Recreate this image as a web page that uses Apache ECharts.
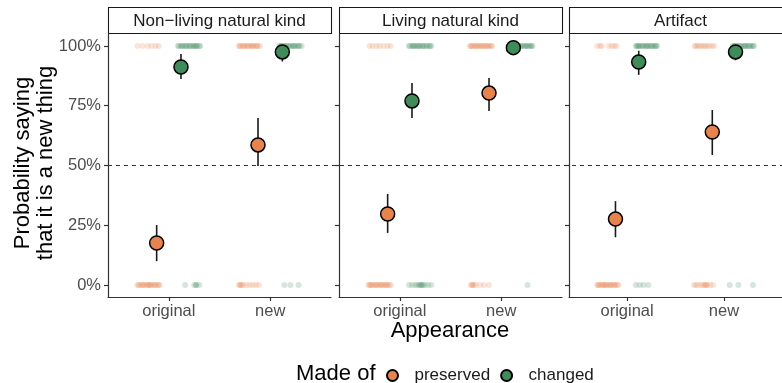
<!DOCTYPE html>
<html>
<head>
<meta charset="utf-8">
<script src="https://cdn.jsdelivr.net/npm/echarts@6/dist/echarts.min.js"></script>
<style>html,body{margin:0;padding:0;background:#fff}#c{width:782px;height:383px}</style>
</head>
<body>
<div id="c"></div>
<script>
// ---------- data ----------
const facets = ['Non\u2212living natural kind', 'Living natural kind', 'Artifact'];
const appearance = ['original', 'new'];
const materials = ['preserved', 'changed'];
const yTicks = [0, 0.25, 0.5, 0.75, 1];
const refLine = 0.5;

// [facet][appearance]
const meanPreserved = [[0.176, 0.586], [0.297, 0.803], [0.276, 0.640]];
const lowPreserved  = [[0.100, 0.498], [0.218, 0.728], [0.200, 0.544]];
const highPreserved = [[0.251, 0.699], [0.381, 0.866], [0.351, 0.732]];
const meanChanged = [[0.912, 0.975], [0.770, 0.993], [0.933, 0.975]];
const lowChanged  = [[0.862, 0.935], [0.699, 0.972], [0.879, 0.940]];
const highChanged = [[0.966, 0.996], [0.845, 1.000], [0.980, 0.996]];

// raw responses: horizontal jitter (hundredths of a category) of each response, [facet][appearance]
const jitterPreserved0 = [
  [[-11,-10,-9,-7,-6,-5,-4,-2,-1,0,1,2,3,5,6,7,9,10,11], [-11,-10,-9,-8,-6,-3,0,3,6,9]],
  [[-11,-10,-9,-8,-7,-5,-4,-3,-2,0,1,2,3,5,6,7,8,10,11], [-10,-9,-8,-7,-5,-1,3,8]],
  [[-11,-10,-9,-8,-6,-5,-4,-3,-2,-1,1,2,3,4,6,7,8,10,11], [-11,-9,-7,-4,-2,0,1,2,3,6,9]]
];
const jitterPreserved1 = [
  [[-11,-6,-1,3,7,10], [-11,-10,-9,-7,-6,-5,-3,-2,-1,1,2,3,4,6,7,8,10]],
  [[-10,-7,-3,0,4,8,11], [-11,-10,-9,-8,-6,-5,-4,-3,-1,0,1,2,4,5,6,7,9,10,11]],
  [[-11,-8,-6,1,4,7,9], [-10,-9,-7,-5,-3,-1,1,3,5,8,10]]
];
const jitterChanged0 = [
  [[-4,5,7,7,10], [-6,0,8]],
  [[-11,-8,-5,-3,-1,0,1,2,3,5,8,11], [6]],
  [[-11,-7,-3,2], [-14,-5,10]]
];
const jitterChanged1 = [
  [[-11,-10,-8,-7,-6,-4,-3,-2,0,1,2,4,5,6,7,8,10,11], [-11,-10,-9,-8,-6,-5,-4,-2,-1,0,2,3,4,5,7,8,9,11]],
  [[-11,-10,-8,-7,-6,-5,-3,-2,-1,0,2,3,4,6,7,9,10,11], [-11,-10,-9,-7,-6,-5,-4,-3,-1,0,1,3,4,5,6,8,9,10,11]],
  [[-11,-10,-9,-8,-7,-5,-4,-3,-1,0,1,2,4,5,6,8,9,10,11], [-11,-10,-9,-8,-7,-6,-4,-3,-2,0,1,2,3,5,6,7,9,10,11]]
];

// ---------- style / layout ----------
const FONT = '"Liberation Sans", Arial, Helvetica, sans-serif';
const ORANGE = '#E6834F', GREEN = '#3F8B5A';
const colors = [ORANGE, GREEN];
const gridLeft = [108, 339, 569];
const panelW = 223, panelTop = 34, panelH = 263;
const meanDodge = 0.12, rawDodge = 0.2;
const axisColor = '#333';

const grids = [], xAxes = [], yAxes = [], series = [], graphics = [];

facets.forEach((f, i) => {
  grids.push({left: gridLeft[i], top: panelTop, width: panelW, height: panelH});
  xAxes.push({
    type: 'value', gridIndex: i, min: 0.4, max: 2.6,
    axisLine: {show: true, onZero: false, lineStyle: {color: axisColor, width: 1.2}},
    axisTick: {show: true, customValues: [1, 2], length: 4, lineStyle: {color: axisColor, width: 1.2}},
    axisLabel: {customValues: [1, 2], formatter: v => appearance[Math.round(v) - 1], fontSize: 16.5,
      color: '#4d4d4d', margin: 6, fontFamily: FONT},
    splitLine: {show: false}
  });
  yAxes.push({
    type: 'value', gridIndex: i, min: -0.05, max: 1.05,
    axisLine: {show: true, onZero: false, lineStyle: {color: axisColor, width: 1.2}},
    axisTick: {show: true, customValues: yTicks, length: 4, lineStyle: {color: axisColor, width: 1.2}},
    axisLabel: {show: i === 0, customValues: yTicks, formatter: v => Math.round(v * 100) + '%',
      fontSize: 16.5, color: '#4d4d4d', margin: 7, fontFamily: FONT},
    splitLine: {show: false}
  });

  const raw = [[jitterPreserved0, jitterPreserved1], [jitterChanged0, jitterChanged1]];
  const means = [meanPreserved, meanChanged], lows = [lowPreserved, lowChanged], highs = [highPreserved, highChanged];

  materials.forEach((m, mi) => {
    const sign = mi === 0 ? -1 : 1;
    const pts = [];
    appearance.forEach((a, ai) => {
      [0, 1].forEach(resp => {
        raw[mi][resp][i][ai].forEach(o => pts.push([ai + 1 + sign * rawDodge + o / 100, resp]));
      });
    });
    series.push({
      type: 'scatter', name: m + ' raw', xAxisIndex: i, yAxisIndex: i, data: pts,
      symbolSize: 6, silent: true, z: 2,
      itemStyle: {color: colors[mi], opacity: 0.21}
    });
    const bars = appearance.map((a, ai) => [ai + 1 + sign * meanDodge, lows[mi][i][ai], highs[mi][i][ai]]);
    series.push({
      type: 'custom', name: m + ' ci', xAxisIndex: i, yAxisIndex: i, data: bars, silent: true, z: 3,
      encode: {x: 0, y: [1, 2]},
      renderItem: (params, api) => {
        const p1 = api.coord([api.value(0), api.value(1)]);
        const p2 = api.coord([api.value(0), api.value(2)]);
        return {type: 'line', shape: {x1: p1[0], y1: p1[1], x2: p2[0], y2: p2[1]},
          style: {stroke: '#1a1a1a', lineWidth: 1.6}};
      }
    });
  });
  materials.forEach((m, mi) => {
    const sign = mi === 0 ? -1 : 1;
    series.push({
      type: 'scatter', name: m, xAxisIndex: i, yAxisIndex: i, z: 5,
      data: appearance.map((a, ai) => [ai + 1 + sign * meanDodge, means[mi][i][ai]]),
      symbolSize: 14,
      itemStyle: {color: colors[mi], borderColor: '#000', borderWidth: 1.5, opacity: 1}
    });
  });

  // strip
  graphics.push({type: 'rect', shape: {x: gridLeft[i] + 0.5, y: 7.5, width: panelW, height: 26},
    style: {fill: '#fff', stroke: '#1a1a1a', lineWidth: 1.1}});
  graphics.push({type: 'text', x: gridLeft[i] + panelW / 2, y: 21,
    style: {text: f, fontSize: 17, fontFamily: FONT, fill: '#1a1a1a', align: 'center', verticalAlign: 'middle'}});
});

// overlay grid for the reference line spanning all panels
grids.push({left: gridLeft[0], top: panelTop, width: gridLeft[2] + panelW - gridLeft[0], height: panelH});
xAxes.push({type: 'value', gridIndex: 3, min: 0, max: 1, show: false});
yAxes.push({type: 'value', gridIndex: 3, min: -0.05, max: 1.05, show: false});
series.push({type: 'line', name: 'ref', xAxisIndex: 3, yAxisIndex: 3, data: [[0, refLine], [1, refLine]],
  symbol: 'none', silent: true, z: 1, lineStyle: {color: '#333', width: 1, type: [4, 4]}});

graphics.push({type: 'text', x: 34, y: 163, rotation: Math.PI / 2,
  style: {text: 'Probability saying\nthat it is a new thing', fontSize: 22, lineHeight: 23, fontFamily: FONT,
    fill: '#000', align: 'center', verticalAlign: 'middle'}});
graphics.push({type: 'text', x: 450, y: 331,
  style: {text: 'Appearance', fontSize: 22, fontFamily: FONT, fill: '#000', align: 'center', verticalAlign: 'middle'}});
graphics.push({type: 'text', x: 296, y: 374,
  style: {text: 'Made of', fontSize: 22, fontFamily: FONT, fill: '#000', align: 'left', verticalAlign: 'middle'}});

const chart = echarts.init(document.getElementById('c'), null, {renderer: 'canvas'});
chart.setOption({
  animation: false,
  backgroundColor: '#fff',
  grid: grids, xAxis: xAxes, yAxis: yAxes, series: series,
  legend: {data: materials, left: 386, top: 367, padding: 0, itemWidth: 22, itemHeight: 11, itemGap: 10,
    icon: 'circle', selectedMode: false,
    textStyle: {fontSize: 17, color: '#1a1a1a', fontFamily: FONT, padding: [0, 0, 0, 6]}},
  graphic: graphics
});
</script>
</body>
</html>
